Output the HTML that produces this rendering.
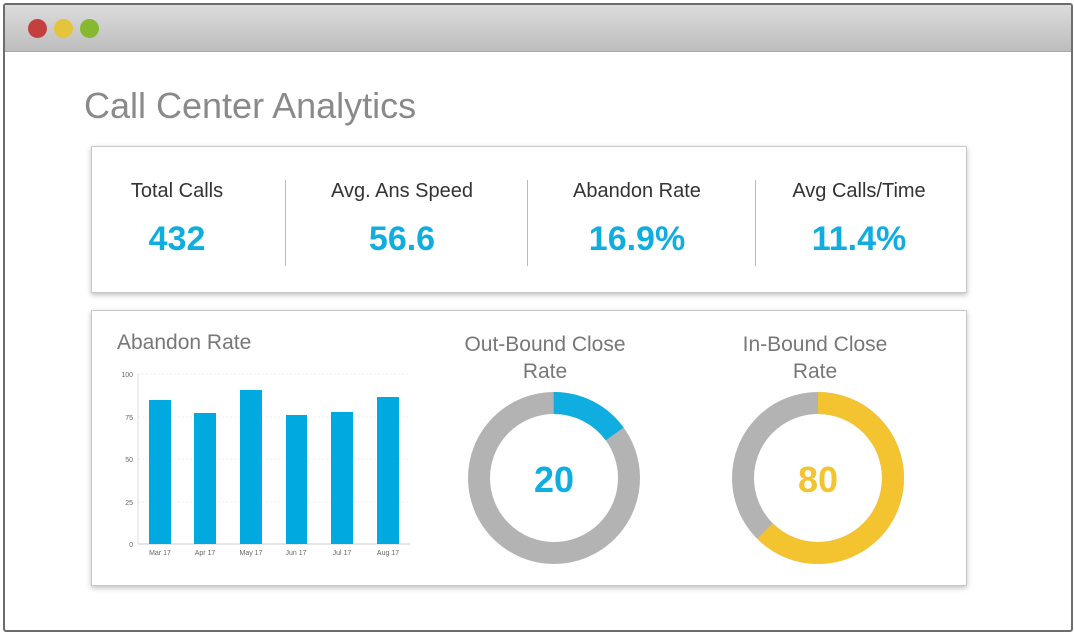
<!DOCTYPE html>
<html><head><style>
body{margin:0;width:1074px;height:634px;background:#fff;font-family:"Liberation Sans",sans-serif;position:relative;overflow:hidden}
.win{position:absolute;left:3px;top:3px;width:1066px;height:625px;border:2px solid #6d6d6d;border-radius:3px;background:#fff}
.bar{position:absolute;left:0;top:0;right:0;height:46px;background:linear-gradient(#dcdcdc,#bdbdbd);border-bottom:1px solid #aaa}
.dot{position:absolute;top:14px;width:19px;height:19px;border-radius:50%}
.card{position:absolute;background:#fff;border:1px solid #c8c8c8;box-shadow:0 2px 5px rgba(0,0,0,.25)}
.k{position:absolute;text-align:center;width:200px}
.k .l{font-size:20px;color:#333}
.k .v{font-size:34px;font-weight:bold;color:#10aee0;margin-top:17px}
.div{position:absolute;top:33px;width:1px;height:86px;background:#bbb}
.t{position:absolute;font-size:21px;color:#777;text-align:center}
</style></head><body>
<div class="win">
<div class="bar"></div>
<div class="dot" style="left:23px;background:#c4403f"></div>
<div class="dot" style="left:49px;background:#e3c43a"></div>
<div class="dot" style="left:75px;background:#86b830"></div>
</div>
<div style="position:absolute;left:84px;top:85px;font-size:36px;color:#8a8a8a">Call Center Analytics</div>
<div class="card" style="left:91px;top:146px;width:874px;height:145px">
<div class="k" style="left:-15px;top:33px"><div class="l">Total Calls</div><div class="v">432</div></div>
<div class="div" style="left:193px"></div>
<div class="k" style="left:210px;top:33px"><div class="l">Avg. Ans Speed</div><div class="v">56.6</div></div>
<div class="div" style="left:435px"></div>
<div class="k" style="left:445px;top:33px"><div class="l">Abandon Rate</div><div class="v">16.9%</div></div>
<div class="div" style="left:663px"></div>
<div class="k" style="left:667px;top:33px"><div class="l">Avg Calls/Time</div><div class="v">11.4%</div></div>
</div>
<div class="card" style="left:91px;top:310px;width:874px;height:274px"></div>
<div class="t" style="left:117px;top:331px">Abandon Rate</div>
<div class="t" style="left:445px;top:331px;width:200px;line-height:27px">Out-Bound Close<br>Rate</div>
<div class="t" style="left:715px;top:331px;width:200px;line-height:27px">In-Bound Close<br>Rate</div>
<svg style="position:absolute;left:0;top:0" width="1074" height="634">
<g stroke="#eee" stroke-dasharray="2,2">
<line x1="138" y1="374" x2="410" y2="374"/><line x1="138" y1="417" x2="410" y2="417"/><line x1="138" y1="459" x2="410" y2="459"/><line x1="138" y1="502" x2="410" y2="502"/>
</g>
<line x1="138" y1="544" x2="410" y2="544" stroke="#ccc"/>
<line x1="138" y1="374" x2="138" y2="544" stroke="#ddd"/>
<g font-size="7" fill="#666" text-anchor="end">
<text x="133" y="377">100</text><text x="133" y="420">75</text><text x="133" y="462">50</text><text x="133" y="505">25</text><text x="133" y="547">0</text></g>
<g fill="#00a9e0">
<rect x="149" y="400" width="22" height="144"/><rect x="194" y="413" width="22" height="131"/><rect x="240" y="390" width="22" height="154"/>
<rect x="286" y="415" width="21" height="129"/><rect x="331" y="412" width="22" height="132"/><rect x="377" y="397" width="22" height="147"/></g>
<g font-size="7" fill="#666" text-anchor="middle">
<text x="160" y="555">Mar 17</text><text x="205" y="555">Apr 17</text><text x="251" y="555">May 17</text><text x="296" y="555">Jun 17</text><text x="342" y="555">Jul 17</text><text x="388" y="555">Aug 17</text></g>
<circle cx="554" cy="478" r="75" fill="none" stroke="#b3b3b3" stroke-width="22"/>
<circle cx="554" cy="478" r="75" fill="none" stroke="#10aee0" stroke-width="22" stroke-dasharray="70.7 400" transform="rotate(-90 554 478)"/>
<circle cx="818" cy="478" r="75" fill="none" stroke="#b3b3b3" stroke-width="22"/>
<circle cx="818" cy="478" r="75" fill="none" stroke="#f4c430" stroke-width="22" stroke-dasharray="294.5 400" transform="rotate(-90 818 478)"/>
<text x="554" y="492" font-size="36" font-weight="bold" fill="#10aee0" text-anchor="middle">20</text>
<text x="818" y="492" font-size="36" font-weight="bold" fill="#f4c430" text-anchor="middle">80</text>
</svg>
</body></html>
